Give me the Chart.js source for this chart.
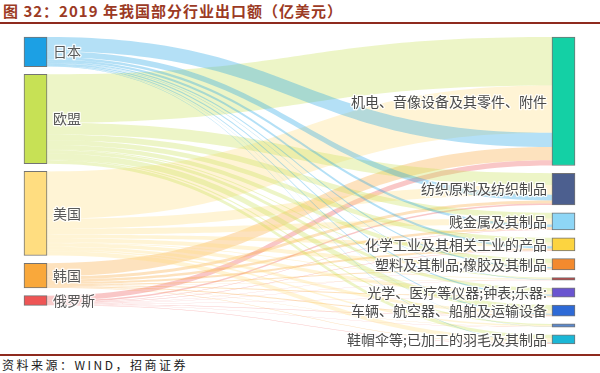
<!DOCTYPE html>
<html>
<head>
<meta charset="utf-8">
<script src="https://cdn.jsdelivr.net/npm/chart.js@4.4.1/dist/chart.umd.min.js"></script>
<style>
  body { margin: 0; width: 600px; height: 373px; overflow: hidden; background: #fff; }
  #title {
    height: 22px; line-height: 22px; padding-left: 3px;
    border-bottom: 2px solid #8e2a1e;
    font-family: "Noto Sans CJK SC", sans-serif; font-weight: 700;
    font-size: 15px; letter-spacing: 1px; color: #9c3a24; white-space: nowrap;
  }
  #wrap { position: relative; width: 600px; height: 330px; }
  #source {
    border-top: 2px solid #8e2a1e; padding-left: 2px;
    font-family: "Noto Sans CJK SC", sans-serif; font-size: 12px;
    letter-spacing: 2.5px; line-height: 17px; color: #222; white-space: nowrap;
  }
</style>
</head>
<body>
<div id="title">图 32：2019 年我国部分行业出口额（亿美元）</div>
<div id="wrap"><canvas id="sankey" width="600" height="330"></canvas></div>
<div id="source">资料来源：WIND，招商证券</div>
<script>
// exporting regions (left column) and industries (right column)
const sources = ["日本", "欧盟", "美国", "韩国", "俄罗斯"]
const targets = [
    "机电、音像设备及其零件、附件",
    "纺织原料及纺织制品",
    "贱金属及其制品",
    "化学工业及其相关工业的产品",
    "塑料及其制品;橡胶及其制品",
    "杂项制品",
    "光学、医疗等仪器;钟表;乐器:",
    "车辆、航空器、船舶及运输设备",
    "珠宝及贵金属制品",
    "鞋帽伞等;已加工的羽毛及其制品"
]
// the two thin unlabeled nodes in the picture
const hiddenLabels = ["杂项制品", "珠宝及贵金属制品"]

// exports per region, same order as targets (亿美元)
const japan  = [630, 250, 110, 100, 60, 15, 55, 45, 15, 25]
const eu     = [2140, 520, 250, 210, 190, 45, 145, 250, 50, 145]
const usa    = [2090, 430, 270, 165, 180, 40, 150, 135, 60, 190]
const korea  = [585, 135, 110, 90, 45, 10, 45, 45, 10, 15]
const russia = [225, 70, 20, 18, 18, 5, 15, 20, 5, 30]
const flows = [japan, eu, usa, korea, russia]

// order in which regions are stacked inside each industry node
const inOrder = [1, 2, 0, 3, 4]

const sourceColors = ["#1ca0e4", "#c7e155", "#ffdd80", "#f9a83b", "#ee5555"]
const targetColors = ["#14d0a5", "#4c5f8f", "#8ed6f6", "#fcd440", "#f38a2e",
                      "#b23a3a", "#6a55d0", "#2e6ad6", "#5a88cc", "#1bb7d6"]

const sum = arr => arr.reduce((a, b) => a + b, 0)

// --- layout in value units ---
const srcTotals = flows.map(sum)
const tgtTotals = targets.map((_, j) => sum(flows.map(f => f[j])))
const total = sum(srcTotals)
const gap = total * 0.0326
const yMax = total + (targets.length - 1) * gap

const nodes = []
let acc = 0
sources.forEach((name, i) => {
    nodes.push({ name, col: 0, y0: acc, y1: acc + srcTotals[i], color: sourceColors[i] })
    acc += srcTotals[i] + gap
})
acc = 0
targets.forEach((name, j) => {
    nodes.push({ name, col: 1, y0: acc, y1: acc + tgtTotals[j], color: targetColors[j] })
    acc += tgtTotals[j] + gap
})

const links = []
const srcOffset = nodes.slice(0, sources.length).map(n => n.y0)
targets.forEach((_, j) => {
    let tOff = nodes[sources.length + j].y0
    inOrder.forEach(i => {
        const v = flows[i][j]
        links.push({ s: i, t: sources.length + j, sy0: srcOffset[i], sy1: srcOffset[i] + v, ty0: tOff, ty1: tOff + v })
        srcOffset[i] += v
        tOff += v
    })
})

const hexAlpha = (hex, a) => {
    const n = parseInt(hex.slice(1), 16)
    return `rgba(${n >> 16},${(n >> 8) & 255},${n & 255},${a})`
}

// draw the bands between nodes
const linkPlugin = {
    id: "links",
    beforeDatasetsDraw(chart) {
        const ctx = chart.ctx
        const y = chart.scales.y
        const els = chart.getDatasetMeta(0).data
        ctx.save()
        links.forEach(l => {
            const x0 = els[l.s].x + els[l.s].width / 2
            const x1 = els[l.t].x - els[l.t].width / 2
            const xm = (x0 + x1) / 2
            const a0 = y.getPixelForValue(l.sy0), a1 = y.getPixelForValue(l.sy1)
            const b0 = y.getPixelForValue(l.ty0), b1 = y.getPixelForValue(l.ty1)
            ctx.beginPath()
            ctx.moveTo(x0, a0)
            ctx.bezierCurveTo(xm, a0, xm, b0, x1, b0)
            ctx.lineTo(x1, b1)
            ctx.bezierCurveTo(xm, b1, xm, a1, x0, a1)
            ctx.closePath()
            ctx.fillStyle = hexAlpha(sourceColors[l.s], 0.33)
            ctx.fill()
        })
        ctx.restore()
    }
}

// node names
const labelPlugin = {
    id: "nodeLabels",
    afterDatasetsDraw(chart) {
        const ctx = chart.ctx
        const els = chart.getDatasetMeta(0).data
        ctx.save()
        ctx.font = "14px 'Noto Sans CJK SC', sans-serif"
        ctx.textBaseline = "middle"
        ctx.lineJoin = "round"
        nodes.forEach((n, k) => {
            if (hiddenLabels.includes(n.name)) return
            const el = els[k]
            const ym = (el.y + el.base) / 2
            let x
            if (n.col === 0) {
                ctx.textAlign = "left"
                x = el.x + el.width / 2 + 6
                ctx.fillStyle = "#595959"
            } else {
                ctx.textAlign = "right"
                x = el.x - el.width / 2 - 5
                ctx.fillStyle = "#4a4a4a"
            }
            ctx.strokeStyle = "rgba(255,255,255,0.85)"
            ctx.lineWidth = 2.5
            ctx.strokeText(n.name, x, ym)
            ctx.fillText(n.name, x, ym)
        })
        ctx.restore()
    }
}

new Chart(document.getElementById("sankey"), {
    type: "bar",
    data: {
        datasets: [{
            data: nodes.map(n => ({ x: n.col, y: [n.y0, n.y1] })),
            backgroundColor: nodes.map(n => n.color),
            borderColor: "rgba(70,70,70,0.75)",
            borderWidth: 1,
            borderSkipped: false,
            barThickness: 23,
            clip: false
        }]
    },
    options: {
        responsive: false,
        animation: false,
        layout: { padding: { left: 35.5, right: 36.5, top: 13, bottom: 10 } },
        scales: {
            x: { type: "linear", min: 0, max: 1, offset: false, display: false },
            y: { min: 0, max: yMax, reverse: true, display: false }
        },
        plugins: { legend: { display: false }, tooltip: { enabled: false } }
    },
    plugins: [linkPlugin, labelPlugin]
})
</script>
</body>
</html>
